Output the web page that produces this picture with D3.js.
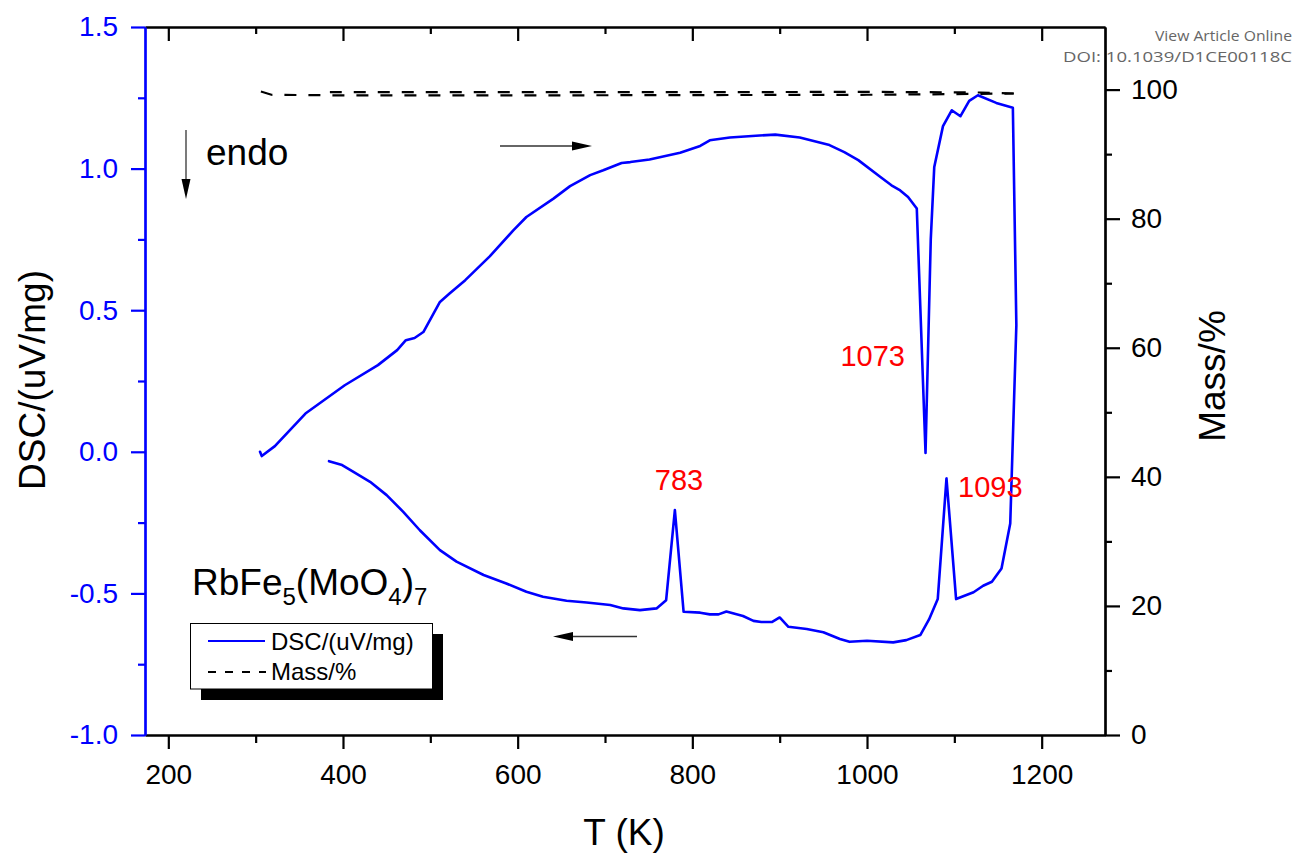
<!DOCTYPE html>
<html>
<head>
<meta charset="utf-8">
<script src="https://cdn.jsdelivr.net/npm/d3@7"></script>
<style>
  html, body { margin: 0; padding: 0; background: #fff; }
  svg { display: block; }
  text { font-family: "Liberation Sans", Arial, sans-serif; }
</style>
</head>
<body>
<svg id="chart" width="1297" height="856"></svg>
<script>
// ---------- DATA ----------
// DSC loop: heating (T increasing) then cooling (T decreasing)
const dscT = [305, 307, 322, 336, 357, 402, 440, 462, 472, 482, 492, 511, 522, 540, 568, 595, 610, 641, 660, 683, 698, 719, 729, 751, 786, 809, 820, 843, 877, 895, 923, 957, 974, 990, 1015, 1028, 1038, 1047, 1057, 1067, 1073, 1077, 1087, 1097, 1107, 1117, 1127, 1148, 1167, 1171,
              1164, 1154, 1143, 1133, 1122, 1102, 1091, 1081, 1071, 1061, 1045, 1030, 1000, 980, 969, 950, 931, 910, 900, 891, 879, 870, 858, 839, 830, 820, 809, 790, 780, 770, 759, 740, 721, 706, 679, 656, 629, 610, 587, 561, 530, 511, 488, 469, 450, 431, 412, 399, 384];
const dscV = [0.0, -0.015, 0.02, 0.066, 0.135, 0.235, 0.306, 0.359, 0.394, 0.402, 0.423, 0.529, 0.559, 0.606, 0.69, 0.782, 0.829, 0.894, 0.938, 0.977, 0.994, 1.02, 1.023, 1.032, 1.056, 1.08, 1.10, 1.11, 1.117, 1.12, 1.11, 1.083, 1.058, 1.03, 0.971, 0.941, 0.923, 0.90, 0.859, -0.004, 0.75, 1.006, 1.15, 1.206, 1.185, 1.239, 1.259, 1.232, 1.215, 0.447,
              -0.253, -0.412, -0.459, -0.473, -0.496, -0.520, -0.094, -0.52, -0.592, -0.647, -0.665, -0.673, -0.667, -0.671, -0.661, -0.637, -0.626, -0.618, -0.585, -0.601, -0.601, -0.597, -0.580, -0.564, -0.574, -0.574, -0.568, -0.565, -0.206, -0.524, -0.553, -0.559, -0.553, -0.541, -0.532, -0.526, -0.512, -0.494, -0.465, -0.435, -0.388, -0.347, -0.277, -0.212, -0.153, -0.106, -0.071, -0.047, -0.033];

// Mass (%) - heating and cooling branches
const massHeatT = [306, 318, 400, 600, 800, 1000, 1100, 1168];
const massHeatV = [99.7, 99.2, 99.1, 99.1, 99.15, 99.2, 99.3, 99.4];
const massCoolT = [1168, 1130, 1000, 800, 600, 385];
const massCoolV = [99.4, 99.55, 99.65, 99.6, 99.6, 99.6];

// Ticks
const xTicks = [200, 400, 600, 800, 1000, 1200];
const xMinor = [300, 500, 700, 900, 1100];
const yLTicks = [-1.0, -0.5, 0.0, 0.5, 1.0, 1.5];
const yLMinor = [-0.75, -0.25, 0.25, 0.75, 1.25];
const yRTicks = [0, 20, 40, 60, 80, 100];
const yRMinor = [10, 30, 50, 70, 90];

// Peak labels
const peakLabels = ["783", "1073", "1093"];

// ---------- CHART ----------
const svg = d3.select("#chart");
const L = 145, R = 1105, T = 27, B = 735;
const x = d3.scaleLinear().domain([173.3, 1272.5]).range([L, R]);
const yL = d3.scaleLinear().domain([-1, 1.5]).range([B, T]);
const yR = d3.scaleLinear().domain([0, 109.7]).range([B, T]);

const blue = "#0000ff";
const FS = 28;

function styleAxis(g, color) {
  g.selectAll("path.domain").attr("stroke", color).attr("stroke-width", 2.2);
  g.selectAll(".tick line").attr("stroke", color).attr("stroke-width", 2.2);
  g.selectAll(".tick text").attr("fill", color).style("font-family", "Liberation Sans, Arial, sans-serif").style("font-size", FS + "px");
}

// Bottom axis
const gxMinor = svg.append("g").attr("transform", `translate(0,${B})`)
  .call(d3.axisBottom(x).tickValues(xMinor).tickSize(8).tickSizeOuter(0).tickFormat(""));
styleAxis(gxMinor, "#000");
const gx = svg.append("g").attr("transform", `translate(0,${B})`)
  .call(d3.axisBottom(x).tickValues(xTicks).tickSize(14).tickSizeOuter(0).tickPadding(15).tickFormat(d => d));
styleAxis(gx, "#000");

// Top axis (ticks inward, no labels)
const gtMinor = svg.append("g").attr("transform", `translate(0,${T})`)
  .call(d3.axisTop(x).tickValues(xMinor).tickSize(-7).tickSizeOuter(0).tickFormat(""));
styleAxis(gtMinor, "#000");
const gt = svg.append("g").attr("transform", `translate(0,${T})`)
  .call(d3.axisTop(x).tickValues(xTicks).tickSize(-14).tickSizeOuter(0).tickFormat(""));
styleAxis(gt, "#000");

// Right axis
const grMinor = svg.append("g").attr("transform", `translate(${R},0)`)
  .call(d3.axisRight(yR).tickValues(yRMinor).tickSize(7).tickSizeOuter(0).tickFormat(""));
styleAxis(grMinor, "#000");
const gr = svg.append("g").attr("transform", `translate(${R},0)`)
  .call(d3.axisRight(yR).tickValues(yRTicks).tickSize(15).tickSizeOuter(0).tickPadding(11).tickFormat(d => d));
styleAxis(gr, "#000");

// Left axis (blue)
const glMinor = svg.append("g").attr("transform", `translate(${L},0)`)
  .call(d3.axisLeft(yL).tickValues(yLMinor).tickSize(7).tickSizeOuter(0).tickFormat(""));
styleAxis(glMinor, blue);
const gl = svg.append("g").attr("transform", `translate(${L},0)`)
  .call(d3.axisLeft(yL).tickValues(yLTicks).tickSize(14).tickSizeOuter(0).tickPadding(13).tickFormat(d => d.toFixed(1)));
styleAxis(gl, blue);

// Axis titles
svg.append("text").attr("x", 624).attr("y", 845).attr("text-anchor", "middle")
  .style("font-size", "37px").attr("fill", "#000").text("T (K)");
svg.append("text").attr("transform", "translate(45,380) rotate(-90)").attr("text-anchor", "middle")
  .style("font-size", "37px").attr("fill", "#000").text("DSC/(uV/mg)");
svg.append("text").attr("transform", "translate(1225,376) rotate(-90)").attr("text-anchor", "middle")
  .style("font-size", "37px").attr("fill", "#000").text("Mass/%");

// Mass curves (dashed)
const massLine = d3.line().x(d => x(d[0])).y(d => yR(d[1]));
svg.append("path").datum(massHeatT.map((t, i) => [t, massHeatV[i]]))
  .attr("d", massLine).attr("fill", "none").attr("stroke", "#000").attr("stroke-width", 2.2)
  .attr("stroke-dasharray", "12,12");
svg.append("path").datum(massCoolT.map((t, i) => [t, massCoolV[i]]))
  .attr("d", massLine).attr("fill", "none").attr("stroke", "#000").attr("stroke-width", 2.2)
  .attr("stroke-dasharray", "12,12");

// DSC curve
const dscLine = d3.line().x(d => x(d[0])).y(d => yL(d[1]));
svg.append("path").datum(dscT.map((t, i) => [t, dscV[i]]))
  .attr("d", dscLine).attr("fill", "none").attr("stroke", blue).attr("stroke-width", 2.6)
  .attr("stroke-linejoin", "round").attr("stroke-linecap", "round");

// Arrows
const arrowGray = "#333";
// endo arrow (down)
svg.append("line").attr("x1", 186).attr("y1", 130).attr("x2", 186).attr("y2", 182).attr("stroke", arrowGray).attr("stroke-width", 1.3);
svg.append("polygon").attr("points", "181.5,179 190.5,179 186,199").attr("fill", "#000");
svg.append("text").attr("x", 206).attr("y", 165).style("font-size", "37px").attr("fill", "#000").text("endo");
// right arrow
svg.append("line").attr("x1", 500).attr("y1", 146).attr("x2", 575).attr("y2", 146).attr("stroke", arrowGray).attr("stroke-width", 1.3);
svg.append("polygon").attr("points", "572,141.5 572,150.5 592,146").attr("fill", "#000");
// left arrow
svg.append("line").attr("x1", 570).attr("y1", 636.5).attr("x2", 637).attr("y2", 636.5).attr("stroke", arrowGray).attr("stroke-width", 1.3);
svg.append("polygon").attr("points", "573,632 573,641 553,636.5").attr("fill", "#000");

// Peak labels
svg.append("text").attr("x", 679).attr("y", 490).attr("text-anchor", "middle").style("font-size", "29px").attr("fill", "#ff0000").text(peakLabels[0]);
svg.append("text").attr("x", 905).attr("y", 366).attr("text-anchor", "end").style("font-size", "29px").attr("fill", "#ff0000").text(peakLabels[1]);
svg.append("text").attr("x", 958).attr("y", 497).attr("text-anchor", "start").style("font-size", "29px").attr("fill", "#ff0000").text(peakLabels[2]);

// Compound formula
const f = svg.append("text").attr("x", 192).attr("y", 595).style("font-size", "37px").attr("fill", "#000");
f.append("tspan").text("RbFe");
f.append("tspan").attr("dy", 10).style("font-size", "24px").text("5");
f.append("tspan").attr("dy", -10).text("(MoO");
f.append("tspan").attr("dy", 10).style("font-size", "24px").text("4");
f.append("tspan").attr("dy", -10).text(")");
f.append("tspan").attr("dy", 10).style("font-size", "24px").text("7");

// Legend
svg.append("rect").attr("x", 201).attr("y", 634).attr("width", 242).attr("height", 66).attr("fill", "#000");
svg.append("rect").attr("x", 190.5).attr("y", 623.5).attr("width", 242).attr("height", 65.5).attr("fill", "#fff").attr("stroke", "#000").attr("stroke-width", 1);
svg.append("line").attr("x1", 208).attr("y1", 641).attr("x2", 265).attr("y2", 641).attr("stroke", blue).attr("stroke-width", 2.2);
svg.append("text").attr("x", 271).attr("y", 650).style("font-size", "24px").attr("fill", "#000").text("DSC/(uV/mg)");
svg.append("line").attr("x1", 208).attr("y1", 672).attr("x2", 266).attr("y2", 672).attr("stroke", "#000").attr("stroke-width", 2.2).attr("stroke-dasharray", "8,9");
svg.append("text").attr("x", 271).attr("y", 680).style("font-size", "24px").attr("fill", "#000").text("Mass/%");

// Watermark
svg.append("text").attr("x", 1292).attr("y", 41).attr("text-anchor", "end").style("font-family", "Open Sans, sans-serif").style("font-size", "14px").attr("fill", "#666")
  .attr("textLength", 137).attr("lengthAdjust", "spacingAndGlyphs").text("View Article Online");
svg.append("text").attr("x", 1292).attr("y", 62).attr("text-anchor", "end").style("font-family", "Open Sans, sans-serif").style("font-size", "15px").attr("fill", "#666")
  .attr("textLength", 229).attr("lengthAdjust", "spacingAndGlyphs").text("DOI: 10.1039/D1CE00118C");
</script>
</body>
</html>
